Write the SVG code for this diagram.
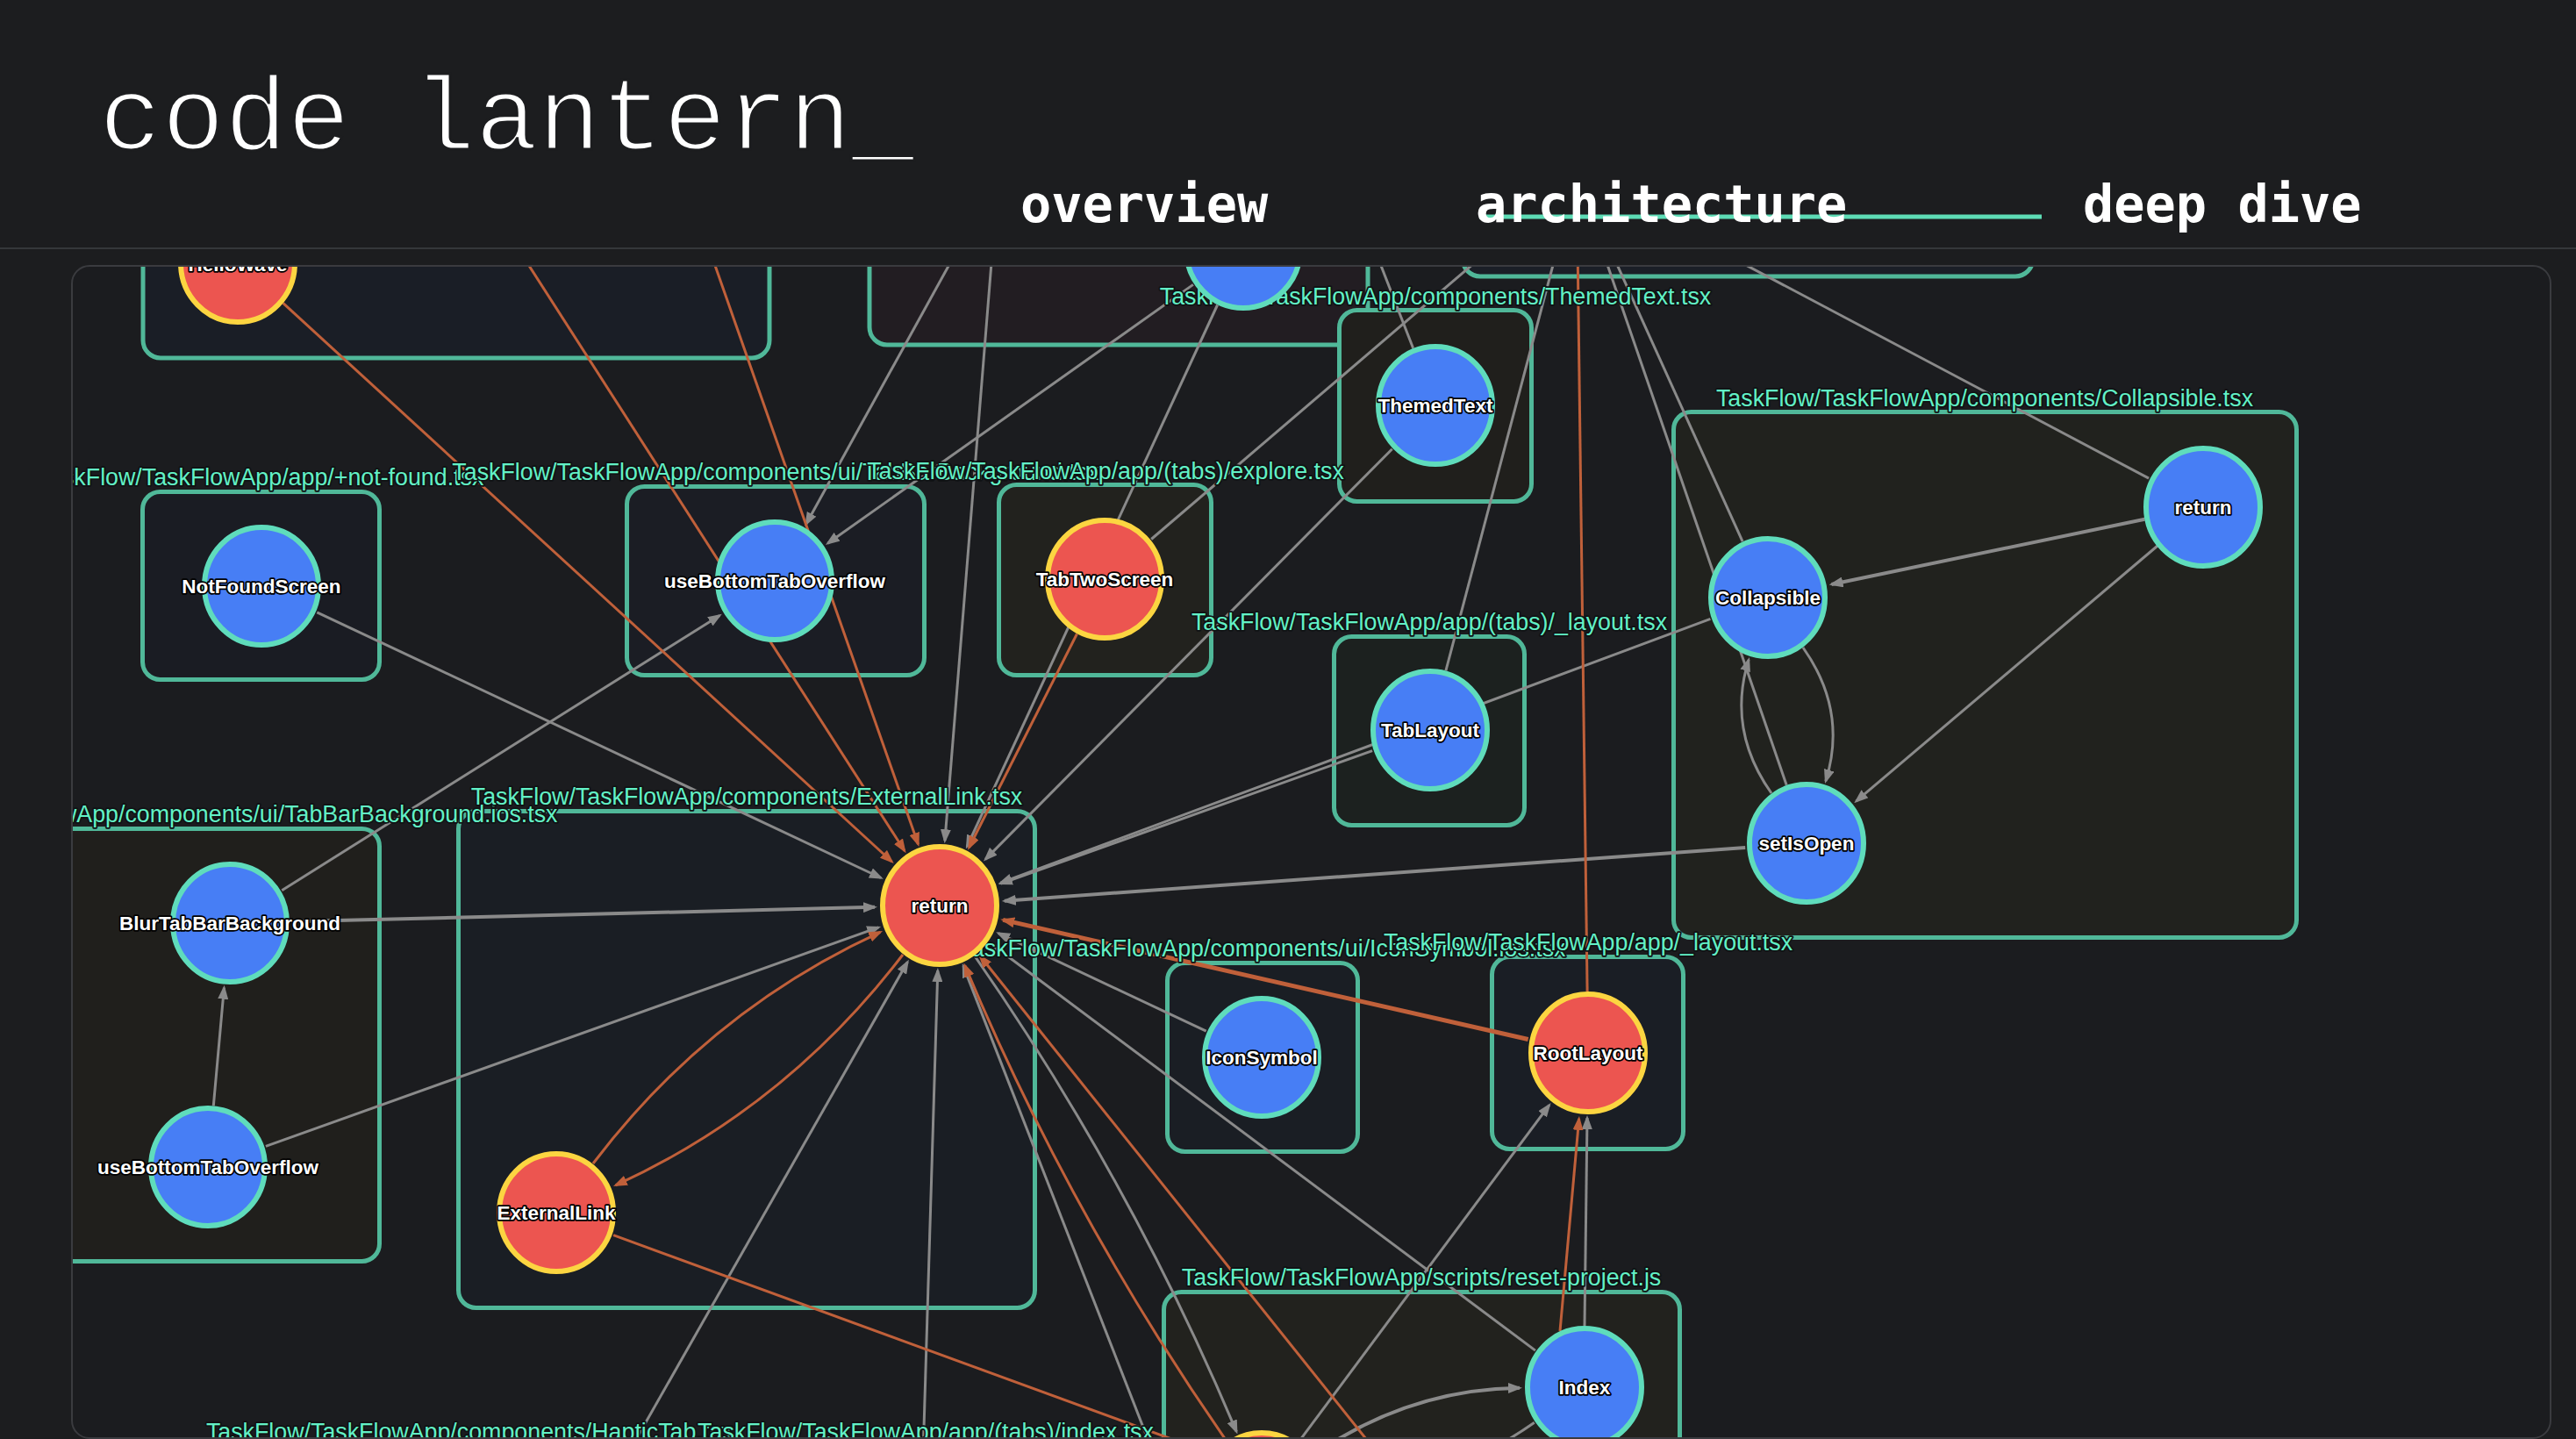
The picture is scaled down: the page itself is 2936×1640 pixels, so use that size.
<svg xmlns="http://www.w3.org/2000/svg" width="2936" height="1640" viewBox="0 0 2936 1640">
<defs>
<style>
.cl{stroke:#50b899;stroke-width:5}
.lbl{font-family:"Liberation Sans",Arial,sans-serif;font-size:26.8px;fill:#62f1c6;stroke:#101214;stroke-width:3.5px;paint-order:stroke;text-anchor:middle;stroke-linejoin:round}
.nb{fill:#477ef5;stroke:#5fdcbc;stroke-width:6}
.nr{fill:#ec5550;stroke:#fcd541;stroke-width:6}
.nt{font-family:"Liberation Sans",Arial,sans-serif;font-weight:bold;font-size:22.5px;fill:#fff;stroke:#000;stroke-width:3.5px;paint-order:stroke;text-anchor:middle;stroke-linejoin:round}
.eg{fill:none;stroke:#8a8a8a;stroke-width:3}
.eo{fill:none;stroke:#c0603a;stroke-width:3}
.tab{font-family:"DejaVu Sans Mono","Liberation Mono",monospace;font-weight:bold;font-size:58.6px;fill:#fff}
</style>
<marker id="ag" viewBox="0 0 16 12" markerWidth="16" markerHeight="12" refX="13" refY="6" orient="auto" markerUnits="userSpaceOnUse"><path d="M0,0 L16,6 L0,12 z" fill="#8a8a8a"/></marker>
<marker id="ao" viewBox="0 0 16 12" markerWidth="16" markerHeight="12" refX="13" refY="6" orient="auto" markerUnits="userSpaceOnUse"><path d="M0,0 L16,6 L0,12 z" fill="#c0603a"/></marker>
<clipPath id="panel"><rect x="82" y="303" width="2825" height="1336" rx="20"/></clipPath>
</defs>
<rect x="0" y="0" width="2936" height="1640" fill="#1c1d1f"/>
<g id="header">
<text x="113" y="170" font-family="'Liberation Mono','DejaVu Sans Mono',monospace" font-size="119" fill="#ffffff" stroke="#1c1d1f" stroke-width="3" textLength="929" lengthAdjust="spacing">code lantern_</text>
<rect x="1686" y="244.5" width="641" height="5" fill="#5ddcb5"/>
<text class="tab" x="1163" y="253">overview</text>
<text class="tab" x="1682" y="253">architecture</text>
<text class="tab" x="2374" y="253">deep dive</text>
<rect x="0" y="282" width="2936" height="2" fill="#35373a"/>
</g>
<rect x="82" y="303" width="2825" height="1336" rx="20" fill="#1b1c1f"/>
<g clip-path="url(#panel)">
<g id="clusters">
<g id="cluster-top-left"><rect class="cl" x="163" y="40" width="714" height="368" rx="20" fill="#1a1e26"/></g>
<g id="cluster-top-middle"><rect class="cl" x="991" y="40" width="568" height="353" rx="20" fill="#221d22"/></g>
<g id="cluster-top-right"><rect class="cl" x="1667" y="20" width="650" height="295" rx="20" fill="#1b1f27"/></g>
<g id="cluster-not-found"><rect class="cl" x="162.5" y="560.5" width="270" height="214" rx="20" fill="#1a1c23"/></g>
<g id="cluster-tabbarbackground"><rect class="cl" x="714.5" y="554.5" width="339" height="215" rx="20" fill="#1b1d24"/></g>
<g id="cluster-explore"><rect class="cl" x="1138.5" y="552.5" width="242" height="217" rx="20" fill="#22221e"/></g>
<g id="cluster-themedtext"><rect class="cl" x="1526.5" y="353.5" width="219" height="218" rx="20" fill="#201f1c"/></g>
<g id="cluster-tabs-layout"><rect class="cl" x="1520.5" y="725.5" width="217" height="215" rx="20" fill="#1c211f"/></g>
<g id="cluster-collapsible"><rect class="cl" x="1907.5" y="469.5" width="710" height="599" rx="20" fill="#21221e"/></g>
<g id="cluster-tabbarbackground-ios"><rect class="cl" x="57" y="944.5" width="375.5" height="493" rx="20" fill="#201f1c"/></g>
<g id="cluster-externallink"><rect class="cl" x="522.5" y="924.5" width="657" height="566" rx="20" fill="#1a1e24"/></g>
<g id="cluster-iconsymbol-ios"><rect class="cl" x="1330.5" y="1097.5" width="217" height="215" rx="20" fill="#1a1e24"/></g>
<g id="cluster-app-layout"><rect class="cl" x="1700.5" y="1090.5" width="218" height="219" rx="20" fill="#1a1e25"/></g>
<g id="cluster-reset-project"><rect class="cl" x="1326.5" y="1472.5" width="588" height="400" rx="20" fill="#22221e"/></g>
</g>
<g id="connectors">
<path class="eg" marker-end="url(#ag)" d="M361.3,697.8 L1004.1,1000.5"/>
<path class="eg" marker-end="url(#ag)" d="M1138,200 L1076.9,958.2"/>
<path class="eg" marker-end="url(#ag)" d="M1387.6,347.5 L1102.1,964.8"/>
<path class="eg" marker-end="url(#ag)" d="M1586.7,511.7 L1123.1,979.4"/>
<path class="eg" marker-end="url(#ag)" d="M1564.1,855.6 L1140.7,1007.1"/>
<path class="eg" marker-end="url(#ag)" d="M1949.4,705.4 L1140.4,1006.2"/>
<path class="eg" marker-end="url(#ag)" style="stroke-width:4" d="M1989.2,966 L1144.8,1026.7"/>
<path class="eg" marker-end="url(#ag)" d="M1374.7,1175.2 L1137.9,1063.6"/>
<path class="eg" marker-end="url(#ag)" d="M1749.9,1539.1 L1130.3,1076.3"/>
<path class="eg" marker-end="url(#ag)" style="stroke-width:4" d="M332,1050.3 L997,1033.8"/>
<path class="eg" marker-end="url(#ag)" d="M302.9,1306.4 L1001.3,1056.9"/>
<path class="eg" marker-end="url(#ag)" d="M2055,738 Q2106,810 2080.9,890.1"/>
<path class="eg" marker-end="url(#ag)" d="M2019,904 Q1968,832 1993.1,751.9"/>
<path class="eg" marker-end="url(#ag)" style="stroke-width:4" d="M2444.4,591.8 L2087.5,666"/>
<path class="eg" marker-end="url(#ag)" d="M2459.1,622 L2115.5,913.2"/>
<path class="eg" marker-end="url(#ag)" d="M321.3,1014.8 L820.3,701.4"/>
<path class="eg" marker-end="url(#ag)" d="M243.3,1260.3 L255.4,1125.7"/>
<path class="eg" marker-end="url(#ag)" d="M1138,200 L918.8,597.2"/>
<path class="eg" marker-end="url(#ag)" d="M1359.9,324.4 L943.4,619.3"/>
<path class="eg" marker-end="url(#ag)" d="M657,1760 L1034.4,1096.3"/>
<path class="eg" marker-end="url(#ag)" d="M1049,1760 L1068.8,1106"/>
<path class="eg" marker-end="url(#ag)" d="M1110.9,1089.5 Q1289.6,1346.7 1409.3,1631.7"/>
<path class="eg" marker-end="url(#ag)" d="M1355,1760 L1097.9,1100.9"/>
<path class="eg" marker-end="url(#ag)" d="M1479.8,1643.8 L1765.8,1259.4"/>
<path class="eg" marker-end="url(#ag)" d="M1806,1511 L1809,1274"/>
<path class="eg" marker-end="url(#ag)" style="stroke-width:4" d="M1495.2,1659.7 Q1603.5,1583.4 1732,1581.8"/>
<path class="eg" marker-end="url(#ag)" d="M1748.8,1621.3 Q1640.5,1697.6 1506,1699"/>
<path class="eg" marker-end="url(#ag)" d="M1312.2,614.5 L1797,200"/>
<path class="eg" marker-end="url(#ag)" d="M1647.9,764.3 L1797,200"/>
<path class="eg" marker-end="url(#ag)" d="M2036.2,894.8 L1797,200"/>
<path class="eg" marker-end="url(#ag)" d="M1986.1,617.2 L1797,200"/>
<path class="eg" marker-end="url(#ag)" d="M2449.1,545.2 L1797,200"/>
<path class="eg" marker-end="url(#ag)" d="M1610.6,396.8 L1534,200"/>
<path class="eo" marker-end="url(#ao)" d="M322.6,345.3 L1016.5,982"/>
<path class="eo" marker-end="url(#ao)" d="M537,200 L1031,969.7"/>
<path class="eo" marker-end="url(#ao)" d="M779,200 L1046.5,962.2"/>
<path class="eo" marker-end="url(#ao)" d="M1227.4,722.5 L1104.4,966"/>
<path class="eo" marker-end="url(#ao)" style="stroke-width:5" d="M1741.7,1184.5 L1143.2,1048.4"/>
<path class="eo" marker-end="url(#ao)" d="M676,1326 Q808,1152 1003.3,1062.3"/>
<path class="eo" marker-end="url(#ao)" d="M1029,1088 Q896,1262 701.7,1350.8"/>
<path class="eo" marker-end="url(#ao)" d="M1809.1,1130 L1797,200"/>
<path class="eo" marker-end="url(#ao)" d="M1398.1,1642.5 Q1219.4,1385.3 1099.7,1100.3"/>
<path class="eo" marker-end="url(#ao)" d="M1629,1730 L1117.2,1089.8"/>
<path class="eo" marker-end="url(#ao)" d="M699.1,1407.7 L1390,1660"/>
<path class="eo" marker-end="url(#ao)" d="M1778,1517 L1799.7,1275"/>
</g>
<g id="cluster-labels">
<text id="label-not-found" class="lbl" x="297" y="553">TaskFlow/TaskFlowApp/app/+not-found.tsx</text>
<text id="label-tabbarbackground" class="lbl" x="884" y="547">TaskFlow/TaskFlowApp/components/ui/TabBarBackground.tsx</text>
<text id="label-explore" class="lbl" x="1260" y="546">TaskFlow/TaskFlowApp/app/(tabs)/explore.tsx</text>
<text id="label-themedtext" class="lbl" x="1636" y="347">TaskFlow/TaskFlowApp/components/ThemedText.tsx</text>
<text id="label-tabs-layout" class="lbl" x="1629" y="718">TaskFlow/TaskFlowApp/app/(tabs)/_layout.tsx</text>
<text id="label-collapsible" class="lbl" x="2262" y="463">TaskFlow/TaskFlowApp/components/Collapsible.tsx</text>
<text id="label-tabbarbackground-ios" class="lbl" x="246" y="937">TaskFlow/TaskFlowApp/components/ui/TabBarBackground.ios.tsx</text>
<text id="label-externallink" class="lbl" x="851" y="917">TaskFlow/TaskFlowApp/components/ExternalLink.tsx</text>
<text id="label-iconsymbol-ios" class="lbl" x="1439" y="1090">TaskFlow/TaskFlowApp/components/ui/IconSymbol.ios.tsx</text>
<text id="label-app-layout" class="lbl" x="1810" y="1083">TaskFlow/TaskFlowApp/app/_layout.tsx</text>
<text id="label-reset-project" class="lbl" x="1620" y="1465">TaskFlow/TaskFlowApp/scripts/reset-project.js</text>
<text id="label-haptictab" class="lbl" x="535" y="1641">TaskFlow/TaskFlowApp/components/HapticTab.tsx</text>
<text id="label-tabs-index" class="lbl" x="1055" y="1641">TaskFlow/TaskFlowApp/app/(tabs)/index.tsx</text>
</g>
<g id="nodes">
<g id="node-hellowave"><ellipse class="nr" cx="271" cy="300" rx="65" ry="67"/><text class="nt" x="271" y="309">HelloWave</text></g>
<g id="node-top-middle"><ellipse class="nb" cx="1417" cy="284" rx="65" ry="67"/></g>
<g id="node-themedtext"><ellipse class="nb" cx="1636" cy="462" rx="65" ry="67"/><text class="nt" x="1636" y="470">ThemedText</text></g>
<g id="node-notfoundscreen"><ellipse class="nb" cx="298" cy="668" rx="65" ry="67"/><text class="nt" x="298" y="676">NotFoundScreen</text></g>
<g id="node-usebottomtaboverflow-1"><ellipse class="nb" cx="883" cy="662" rx="65" ry="67"/><text class="nt" x="883" y="670">useBottomTabOverflow</text></g>
<g id="node-tabtwoscreen"><ellipse class="nr" cx="1259" cy="660" rx="65" ry="67"/><text class="nt" x="1259" y="668">TabTwoScreen</text></g>
<g id="node-tablayout"><ellipse class="nb" cx="1630" cy="832" rx="65" ry="67"/><text class="nt" x="1630" y="840">TabLayout</text></g>
<g id="node-collapsible"><ellipse class="nb" cx="2015" cy="681" rx="65" ry="67"/><text class="nt" x="2015" y="689">Collapsible</text></g>
<g id="node-collapsible-return"><ellipse class="nb" cx="2511" cy="578" rx="65" ry="67"/><text class="nt" x="2511" y="586">return</text></g>
<g id="node-setisopen"><ellipse class="nb" cx="2059" cy="961" rx="65" ry="67"/><text class="nt" x="2059" y="969">setIsOpen</text></g>
<g id="node-return"><ellipse class="nr" cx="1071" cy="1032" rx="65" ry="67"/><text class="nt" x="1071" y="1040">return</text></g>
<g id="node-blurtabbarbackground"><ellipse class="nb" cx="262" cy="1052" rx="65" ry="67"/><text class="nt" x="262" y="1060">BlurTabBarBackground</text></g>
<g id="node-usebottomtaboverflow-2"><ellipse class="nb" cx="237" cy="1330" rx="65" ry="67"/><text class="nt" x="237" y="1338">useBottomTabOverflow</text></g>
<g id="node-externallink"><ellipse class="nr" cx="634" cy="1382" rx="65" ry="67"/><text class="nt" x="634" y="1390">ExternalLink</text></g>
<g id="node-iconsymbol"><ellipse class="nb" cx="1438" cy="1205" rx="65" ry="67"/><text class="nt" x="1438" y="1213">IconSymbol</text></g>
<g id="node-rootlayout"><ellipse class="nr" cx="1810" cy="1200" rx="65" ry="67"/><text class="nt" x="1810" y="1208">RootLayout</text></g>
<g id="node-index"><ellipse class="nb" cx="1806" cy="1581" rx="65" ry="67"/><text class="nt" x="1806" y="1589">Index</text></g>
<g id="node-bottom"><ellipse class="nr" cx="1438" cy="1700" rx="65" ry="67"/></g>
</g>
</g>
<rect x="82" y="303" width="2825" height="1336" rx="20" fill="none" stroke="#3a3b3f" stroke-width="2"/>
</svg>
